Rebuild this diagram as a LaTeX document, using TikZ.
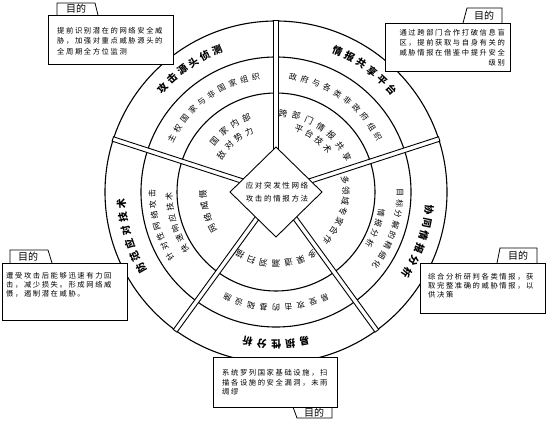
\documentclass[tikz,border=0pt]{standalone}
\usepackage{fontspec}
\newfontfamily\cjk{Noto Sans CJK SC}
\newfontfamily\cjkls{Noto Sans CJK SC}[LetterSpace=22]
\newcommand{\arctxt}[7]{% #1 style, #2 name, #3 radius, #4 centre angle, #5 step, #6 count, #7 chars
  \foreach \ch [count=\i] in {#7} {
    \pgfmathsetmacro{\ang}{#4+((#6+1)/2-\i)*#5}
    \pgfmathsetmacro{\rot}{\ang-90}
    \node[#1, rotate=\rot] (#2-\i) at (\ang:#3pt) {\ch};
  }}
\tikzset{
  ring/.style={line width=1.1pt},
  sepbar/.style={draw, fill=white, line width=0.9pt},
  outerlab/.style={inner sep=0pt, font=\cjk\bfseries\fontsize{10}{11}\selectfont},
  midlab/.style={inner sep=0pt, font=\cjk\fontsize{8}{9}\selectfont},
  innerlab/.style={inner sep=0pt, font=\cjk\fontsize{8.5}{9}\selectfont},
  boxtxt/.style={inner sep=0pt, font=\cjkls\fontsize{7.3}{9}\selectfont},
  tablab/.style={inner sep=0pt, font=\cjk\fontsize{10}{11}\selectfont},
  callout/.style={draw, fill=white, line width=0.8pt},
}
\begin{document}
\begin{tikzpicture}[x=1pt,y=1pt]
\useasboundingbox (0,0) rectangle (553,421);
\fill[white] (0,0) rectangle (553,421);
\begin{scope}[shift={(276,229)}]
  % rings
  \draw[ring] (0,0) circle (99);
  \draw[ring] (0,0) circle (135);
  \draw[ring] (0,0) circle (171);
  % separators
  \foreach \a in {90,162,234,306,18}
    \draw[sepbar, rotate=\a] (0,-2.3) rectangle (171.6,2.3);
  % central diamond
  \coordinate (dt) at (0,45);
  \coordinate (dr) at (46,0);
  \coordinate (db) at (0,-45);
  \coordinate (dl) at (-46,0);
  \draw[fill=white, line width=0.9pt] (dt) -- (dr) -- (db) -- (dl) -- cycle;
  \node[inner sep=0pt, align=center, font=\cjkls\fontsize{7.5}{13}\selectfont] (ctext) at (1,0) {应对突发性网络\\攻击的情报方法};
  % outer band labels
  \arctxt{outerlab}{otl}{154}{125}{5.0}{6}{攻,击,源,头,侦,测}
  \arctxt{outerlab}{otr}{154}{54}{5.0}{6}{情,报,共,享,平,台}
  \arctxt{outerlab}{ol}{155}{197}{5.0}{6}{防,范,应,对,技,术}
  \arctxt{outerlab}{or}{154}{341}{5.0}{6}{协,同,情,报,分,析}
  \arctxt{outerlab}{ob}{152}{270}{5.4}{5}{易,损,性,分,析}
  % middle band labels
  \arctxt{midlab}{mtl}{117}{126.5}{5.9}{10}{主,权,国,家,与,非,国,家,组,织}
  \arctxt{midlab}{mtr}{116}{55}{5.9}{10}{政,府,与,各,类,非,政,府,组,织}
  \arctxt{midlab}{ml1}{124}{196}{5.1}{7}{针,对,性,网,络,攻,击}
  \arctxt{midlab}{ml2}{107}{197}{5.9}{6}{快,速,响,应,技,术}
  \arctxt{midlab}{mr1}{124}{342}{5.1}{8}{目,标,分,解,的,精,细,化}
  \arctxt{midlab}{mr2}{107}{340}{5.9}{4}{情,报,分,析}
  \arctxt{midlab}{mb}{116}{270}{6.2}{9}{易,受,攻,击,的,基,础,设,施}
  % inner band labels
  \arctxt{innerlab}{itl1}{80}{126}{9.5}{4}{国,家,内,部}
  \arctxt{innerlab}{itl2}{66}{130}{10.5}{4}{敌,对,势,力}
  \arctxt{innerlab}{itr1}{79}{55.5}{9.8}{7}{跨,部,门,情,报,共,享}
  \arctxt{innerlab}{itr2}{67}{55}{10}{4}{平,台,技,术}
  \arctxt{innerlab}{il}{73}{196}{9.3}{4}{网,络,威,慑}
  \arctxt{innerlab}{ir}{70}{343.5}{8.8}{7}{多,领,域,专,家,合,作}
  \arctxt{innerlab}{ib}{72}{270}{10}{7}{多,渠,道,漏,洞,扫,描}
\end{scope}
% callout 1 (top left)
\draw[callout] (57,406) -- (57,418) -- (95,418) -- (98,406);
\draw[callout] (48,357) rectangle (173,406);
\node[tablab] (tab1) at (76,412) {目的};
\node[boxtxt, anchor=west] (b1a) at (57,390) {提前识别潜在的网络安全威};
\node[boxtxt, anchor=west] (b1b) at (57,380) {胁，加强对重点威胁源头的};
\node[boxtxt, anchor=west] (b1c) at (57,369.5) {全周期全方位监测};
% callout 2 (top right)
\draw[callout] (463,398) -- (467,413) -- (502,413) -- (502,398);
\draw[callout] (385,350) rectangle (510,398);
\node[tablab] (tab2) at (484,405.5) {目的};
\node[boxtxt, anchor=east] (b2a) at (505,388) {通过跨部门合作打破信息盲};
\node[boxtxt, anchor=east] (b2b) at (505,378) {区，提前获取与自身有关的};
\node[boxtxt, anchor=east] (b2c) at (505,368) {威胁情报在借鉴中提升安全};
\node[boxtxt, anchor=east] (b2d) at (505,358) {级别};
% callout 3 (left)
\draw[callout] (10,158) -- (10,171) -- (48,171) -- (52,158);
\draw[callout] (2,101) rectangle (127,158);
\node[tablab] (tab3) at (28,164.5) {目的};
\node[boxtxt, anchor=west] (b3a) at (6,145) {遭受攻击后能够迅速有力回};
\node[boxtxt, anchor=west] (b3b) at (6,136) {击，减少损失。形成网络威};
\node[boxtxt, anchor=west] (b3c) at (6,127) {慑，遏制潜在威胁。};
% callout 4 (right)
\draw[callout] (497,158) -- (500,173) -- (537,173) -- (537,158);
\draw[callout] (420,108) rectangle (545,158);
\node[tablab] (tab4) at (518,165.5) {目的};
\node[boxtxt, anchor=west] (b4a) at (428,144) {综合分析研判各类情报，获};
\node[boxtxt, anchor=west] (b4b) at (428,135) {取完整准确的威胁情报，以};
\node[boxtxt, anchor=west] (b4c) at (428,126) {供决策};
% callout 5 (bottom)
\draw[callout] (293,14) -- (297,3) -- (332,3) -- (332,14);
\draw[callout] (213,14) rectangle (337,64);
\node[tablab] (tab5) at (314,8.5) {目的};
\node[boxtxt, anchor=west] (b5a) at (222,48) {系统罗列国家基础设施，扫};
\node[boxtxt, anchor=west] (b5b) at (222,38) {描各设施的安全漏洞，未雨};
\node[boxtxt, anchor=west] (b5c) at (222,29) {绸缪};
\end{tikzpicture}
\end{document}
